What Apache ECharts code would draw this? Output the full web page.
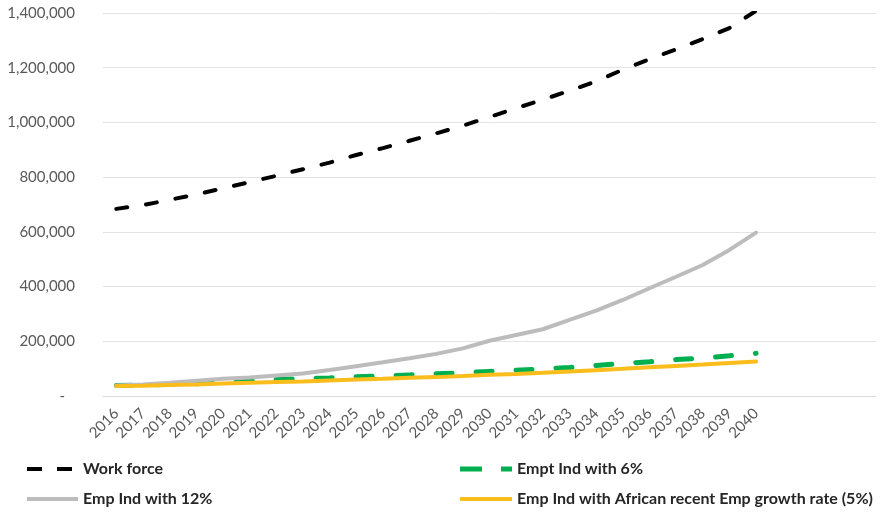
<!DOCTYPE html>
<html>
<head>
<meta charset="utf-8">
<script src="https://cdn.jsdelivr.net/npm/echarts@6/dist/echarts.min.js"></script>
<style>
  html, body { margin: 0; padding: 0; background: #ffffff; }
  #chart { width: 882px; height: 512px; }
</style>
</head>
<body>
<div id="chart"></div>
<script>
// Years on the category axis (the axis keeps four empty slots after 2040)
const years = ['2016','2017','2018','2019','2020','2021','2022','2023','2024','2025','2026','2027','2028',
  '2029','2030','2031','2032','2033','2034','2035','2036','2037','2038','2039','2040','','','',''];

// Projected work force
const workForce = [684000, 698000, 717000, 737000, 759000, 782000, 805000, 829000, 853000, 881000, 906000,
  933000, 960000, 988000, 1020000, 1052000, 1083000, 1116000, 1150000, 1193000, 1231000, 1267000,
  1305000, 1345000, 1408000];

// Industrial employment at 6% growth
const empInd6 = [38000, 40000, 42500, 45000, 50000, 57000, 60000, 64000, 66000, 70000, 73000, 77000,
  81000, 85000, 90000, 94500, 99000, 104000, 111500, 119000, 125000, 133000, 139000, 147000, 156000];

// Industrial employment at 12% growth
const empInd12 = [38000, 42500, 48500, 55800, 63000, 68000, 75000, 82000, 95000, 109000, 123000, 138000,
  154000, 174000, 202000, 223000, 244000, 278000, 312000, 351000, 394000, 436000, 479000, 534000, 597000];

// Industrial employment at the recent African employment growth rate (5%)
const empIndAfrican = [36400, 37600, 40000, 42400, 46000, 48500, 51000, 53300, 57000, 60600, 63000, 66700,
  69000, 72700, 77600, 80000, 84800, 89700, 94500, 99400, 105000, 110000, 115000, 121000, 126000];

const yTicks = { min: 0, max: 1400000, interval: 200000 };

const FONT = 'Lato, "Open Sans", sans-serif';
const AXIS_TEXT = '#595959';

const names = {
  wf: 'Work force',
  e6: 'Empt Ind with 6%',
  e12: 'Emp Ind with 12%',
  eAf: 'Emp Ind with African recent Emp growth rate (5%)'
};

// Legend keys drawn as short line samples (dashed or solid)
const keys = {
  wf:  { icon: 'path://M0,0H15V4H0Z M30,0H45V4H30Z', w: 45, h: 4, pad: 6 },
  e6:  { icon: 'path://M0,0H22V5H0Z M41,0H52V5H41Z', w: 52, h: 5, pad: 0 },
  e12: { icon: 'path://M0,0H51V4H0Z', w: 51, h: 4, pad: 0 },
  eAf: { icon: 'path://M0,0H52V4H0Z', w: 52, h: 4, pad: 0 }
};

function fmt(v) {
  if (v === 0) return '{z|-}';
  return v.toLocaleString('en-US');
}

// A one-entry legend whose key and label are centred on centerY
function legendAt(id, left, centerY) {
  const k = keys[id];
  return {
    data: [{ name: names[id], icon: k.icon }],
    left: left,
    top: centerY - 8,
    itemWidth: k.w,
    itemHeight: k.h,
    itemGap: 0,
    padding: 0,
    textStyle: {
      fontFamily: FONT, fontSize: 16, fontWeight: 'bold', color: '#262626',
      padding: [0, 0, 0, k.pad]
    },
    selectedMode: false
  };
}

const chart = echarts.init(document.getElementById('chart'), null, { renderer: 'canvas' });

chart.setOption({
  animation: false,
  backgroundColor: '#ffffff',
  grid: { left: 103, right: 6, top: 13, bottom: 116, containLabel: false },
  legend: [
    legendAt('wf', 27, 469),
    legendAt('e6', 460, 469),
    legendAt('e12', 27, 499),
    legendAt('eAf', 460, 499)
  ],
  xAxis: {
    type: 'category',
    data: years,
    boundaryGap: true,
    axisLine: { show: true, lineStyle: { color: '#d9d9d9', width: 1 } },
    axisTick: { show: false },
    axisLabel: {
      interval: 0,
      rotate: 45,
      margin: 15,
      fontFamily: FONT,
      fontSize: 15,
      color: AXIS_TEXT
    },
    splitLine: { show: false }
  },
  yAxis: {
    type: 'value',
    min: yTicks.min,
    max: yTicks.max,
    interval: yTicks.interval,
    axisLine: { show: false },
    axisTick: { show: false },
    axisLabel: {
      margin: 28,
      fontFamily: FONT,
      fontSize: 15,
      color: AXIS_TEXT,
      formatter: fmt,
      rich: { z: { fontFamily: FONT, fontSize: 15, color: AXIS_TEXT, padding: [0, 10, 0, 0] } }
    },
    splitLine: { show: true, lineStyle: { color: '#e3e3e3', width: 1 } }
  },
  series: [
    {
      name: names.wf,
      type: 'line',
      data: workForce,
      symbol: 'none',
      lineStyle: { color: '#000000', width: 4, type: [11, 19], cap: 'round' },
      itemStyle: { color: '#000000' },
      z: 2
    },
    {
      name: names.e6,
      type: 'line',
      data: empInd6,
      symbol: 'none',
      lineStyle: { color: '#00b050', width: 5, type: [16, 24], cap: 'round' },
      itemStyle: { color: '#00b050' },
      z: 3
    },
    {
      name: names.e12,
      type: 'line',
      data: empInd12,
      symbol: 'none',
      lineStyle: { color: '#bcbcbc', width: 4, cap: 'round' },
      itemStyle: { color: '#bcbcbc' },
      z: 4
    },
    {
      name: names.eAf,
      type: 'line',
      data: empIndAfrican,
      symbol: 'none',
      lineStyle: { color: '#fbbd1c', width: 4, cap: 'round' },
      itemStyle: { color: '#fbbd1c' },
      z: 5
    }
  ]
});
</script>
</body>
</html>
